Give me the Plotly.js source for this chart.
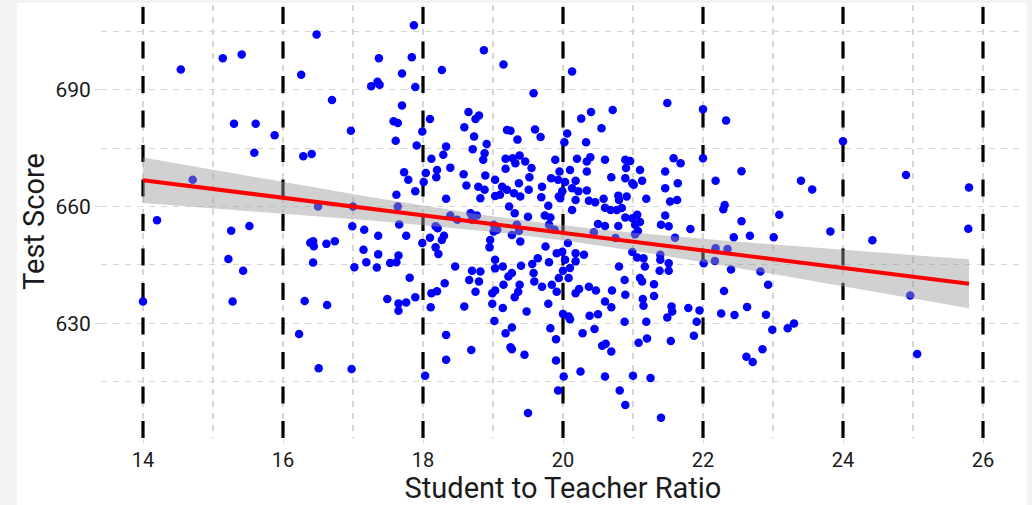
<!DOCTYPE html>
<html>
<head>
<meta charset="utf-8">
<script src="https://cdn.plot.ly/plotly-3.0.1.min.js"></script>
<style>
  html, body { margin: 0; padding: 0; background: #f3f3f3; width: 1032px; height: 505px; overflow: hidden; }
  #chart { position: absolute; left: 17px; top: 3px; width: 1010px; height: 502px; background: #ffffff; }
</style>
</head>
<body>
<div id="chart"></div>
<script>
// Student-teacher ratio (x) and test score (y) of each district
const strRatio = [
  14.54,15.14,15.41,15.30,15.61,15.88,15.59,14.71,16.48,16.26,16.70,16.29,16.41,16.50,17.00,16.97,17.37,17.26,17.38,17.35,17.58,17.64,17.61,17.62,17.64,
  14.20,15.26,15.52,15.22,15.43,14.00,15.28,16.99,17.16,17.36,16.39,16.43,16.44,16.62,16.74,16.43,17.15,17.36,17.02,17.19,17.34,17.53,17.62,17.65,17.66,16.31,16.63,17.49,17.65,17.65,16.23,16.51,16.98,
  17.87,18.87,19.15,17.84,17.70,18.27,17.89,19.58,17.70,18.10,17.99,18.65,18.80,18.75,18.59,18.73,18.91,18.33,18.71,17.91,19.20,19.25,19.35,19.60,19.68,
  18.12,18.29,18.86,18.88,19.18,19.28,19.38,19.46,19.32,19.55,19.18,19.89,17.73,18.04,18.20,18.19,18.39,17.79,18.01,18.58,18.89,18.62,18.79,18.88,18.82,
  19.03,19.13,19.20,19.10,19.03,19.30,19.39,19.37,19.52,19.51,19.70,19.69,19.83,19.79,19.94,17.89,18.33,19.23,19.31,19.50,19.74,19.82,18.39,18.49,18.68,
  18.77,18.70,19.01,19.06,19.01,19.34,19.37,19.27,19.80,19.88,18.18,18.21,18.30,18.27,17.76,17.99,18.10,18.96,18.95,19.39,19.75,18.18,18.22,19.91,19.03,
  19.03,19.14,19.40,19.64,19.56,19.80,18.46,18.70,18.82,18.66,18.80,18.75,17.81,18.31,18.20,18.12,19.27,19.22,19.15,19.03,18.99,19.38,19.36,19.58,19.59,
  19.70,19.84,19.91,
  17.76,17.89,18.11,18.59,18.99,19.14,19.31,19.48,19.79,19.02,19.27,19.18,18.33,18.69,19.25,19.27,19.45,19.82,19.90,18.33,19.90,18.03,19.93,19.50,
  20.13,21.49,22.00,20.26,20.40,20.71,20.55,20.06,20.02,20.33,
  20.20,20.34,20.39,20.60,20.89,20.96,20.90,21.10,21.46,21.58,21.68,22.00,20.10,20.34,19.95,19.93,20.69,20.89,20.99,21.01,21.13,21.46,21.64,20.03,20.18,
  20.13,20.22,20.34,19.99,19.96,20.18,20.37,20.46,20.58,20.79,20.91,20.80,21.19,21.53,21.63,20.13,20.60,20.68,20.77,20.84,20.89,20.99,21.06,21.10,21.03,
  21.07,20.50,20.60,20.79,21.46,21.40,21.51,21.82,20.44,20.75,21.03,21.60,20.07,19.99,20.03,20.18,20.30,20.18,20.10,20.00,20.99,21.06,21.15,21.17,21.39,
  21.39,21.51,21.51,21.38,20.80,22.01,19.94,20.08,20.88,21.10,21.13,21.30,20.37,20.47,20.23,20.18,20.70,20.89,
  20.60,20.69,21.14,21.15,21.30,20.00,20.08,20.10,20.38,20.50,20.88,21.19,21.49,21.56,21.55,21.79,21.95,21.91,20.28,20.45,20.56,20.61,20.69,21.08,21.20,
  21.54,21.87,20.25,20.01,20.60,21.00,21.25,20.81,20.89,21.40,
  22.33,24.00,22.55,22.18,23.40,23.56,24.90,25.80,22.31,22.29,23.09,22.55,
  22.44,22.67,23.01,23.82,24.42,25.79,22.18,22.17,22.35,22.40,22.82,22.93,22.30,22.26,22.45,22.63,22.90,22.99,23.21,23.30,22.85,22.62,22.71,24.96,25.06
];
const testScore = [
  695.2,698.1,699.1,681.3,681.3,678.3,673.8,666.9,704.2,693.9,687.4,672.9,673.5,660.0,660.0,679.5,698.1,690.9,691.3,692.1,681.9,681.5,676.9,663.0,660.0,
  656.5,653.8,655.0,646.5,643.5,635.6,635.6,654.9,654.0,652.5,650.7,651.1,649.8,650.4,651.1,645.6,648.9,647.7,644.4,645.7,644.3,645.5,645.7,647.4,655.4,635.7,634.7,636.2,635.1,633.2,627.2,618.4,618.2,
  706.6,700.2,696.5,698.4,694.2,695.1,690.7,689.1,686.0,682.5,679.3,684.3,683.4,682.5,680.4,678.0,676.1,675.4,674.7,675.7,679.7,679.5,677.2,679.8,677.9,
  672.3,673.3,672.0,673.7,672.3,672.4,673.1,671.6,671.1,669.9,669.7,672.0,668.8,668.6,669.4,667.5,670.0,666.9,666.3,668.3,668.0,665.4,665.1,664.3,662.1,
  666.9,665.1,664.3,663.0,662.7,663.4,662.6,666.0,667.5,664.3,665.1,662.4,667.3,660.2,662.6,663.9,662.0,660.0,658.3,657.4,657.7,657.2,657.7,656.6,658.3,
  657.7,656.6,655.3,654.0,653.6,655.3,653.7,652.7,655.3,654.0,654.9,654.4,652.5,651.4,652.5,650.6,652.0,651.4,649.5,651.0,649.7,649.5,647.8,648.0,646.3,
  644.1,644.6,644.8,646.7,645.2,645.7,644.6,643.5,643.3,641.1,640.7,638.1,641.7,640.3,638.2,637.7,642.9,642.0,639.9,638.4,637.7,639.9,638.1,642.9,640.7,
  639.4,639.9,638.1,
  635.3,636.7,634.1,634.3,635.0,633.9,636.7,633.0,635.0,630.6,628.9,627.4,627.0,623.1,623.8,623.3,621.9,628.7,625.9,620.6,620.4,616.5,612.7,606.9,
  694.7,686.6,685.0,682.6,684.3,684.8,680.1,678.8,676.5,676.5,
  672.3,671.6,672.7,672.0,672.0,671.7,669.9,669.4,669.0,672.4,671.1,672.4,669.4,669.0,669.0,666.9,667.5,667.3,666.0,665.6,666.6,664.7,666.0,666.3,666.6,
  664.7,663.9,664.1,663.9,662.1,661.7,661.5,661.1,662.0,662.8,662.6,661.7,662.0,661.3,661.7,659.1,659.7,659.1,659.1,659.6,657.2,657.0,657.9,656.0,655.3,
  653.7,655.5,655.0,655.0,657.7,655.3,654.9,654.2,653.4,651.9,652.9,652.0,650.6,648.4,646.3,648.0,647.6,645.9,644.2,643.5,648.3,646.9,646.7,644.6,647.6,
  646.3,645.4,643.5,643.5,644.6,645.4,641.6,641.6,641.1,641.6,640.7,640.0,639.4,638.4,638.8,637.7,638.4,637.3,
  635.6,634.1,636.2,634.5,637.0,632.4,631.7,631.0,631.9,632.3,630.4,630.4,631.5,633.0,634.3,633.9,633.3,630.4,627.4,628.5,624.2,624.7,622.7,625.0,626.1,
  625.4,626.8,617.6,616.3,616.3,616.5,615.9,612.7,609.0,605.7,
  682.1,676.8,669.1,666.6,666.6,664.4,668.1,664.9,660.4,659.3,657.9,656.2,
  652.1,652.5,652.1,653.6,651.3,654.3,649.3,646.0,649.1,643.8,643.3,639.9,638.3,632.5,632.1,634.2,632.2,628.3,628.7,629.9,623.3,621.4,620.0,637.1,622.1
];
// Reference lines at these ratios
const vlineX = [14, 16, 18, 20, 22, 24, 26];
const xTicks = [14, 16, 18, 20, 22, 24, 26];
const yTicks = [630, 660, 690];
const xRange = [13.4, 26.6];
const yRange = [600.49, 711.81];

// Linear fit (method = "lm") with 95% band, computed from the data
const n = strRatio.length;
const mx = strRatio.reduce((a, b) => a + b, 0) / n;
const my = testScore.reduce((a, b) => a + b, 0) / n;
let sxx = 0, sxy = 0;
for (let i = 0; i < n; i++) { sxx += (strRatio[i] - mx) ** 2; sxy += (strRatio[i] - mx) * (testScore[i] - my); }
const slope = sxy / sxx, intercept = my - slope * mx;
let sse = 0;
for (let i = 0; i < n; i++) { sse += (testScore[i] - intercept - slope * strRatio[i]) ** 2; }
const s = Math.sqrt(sse / (n - 2));
const tq = 1.966;
const xmin = Math.min(...strRatio), xmax = Math.max(...strRatio);
const fx = [], fy = [], lo = [], hi = [];
for (let k = 0; k <= 80; k++) {
  const x = xmin + (xmax - xmin) * k / 80;
  const yhat = intercept + slope * x;
  const se = s * Math.sqrt(1 / n + (x - mx) ** 2 / sxx);
  fx.push(x); fy.push(yhat); lo.push(yhat - tq * se); hi.push(yhat + tq * se);
}

const gridCol = '#d6d6d6';
const fontFam = 'Roboto, "Open Sans", sans-serif';

// dashed vertical reference lines (drawn first, from the bottom of the panel upwards)
const vlineTraces = vlineX.map(v => ({
  x: [v, v], y: [yRange[0], yRange[1]], type: 'scatter', mode: 'lines',
  line: { color: '#000000', width: 3.2, dash: '17px,17.5px' }, hoverinfo: 'skip', showlegend: false
}));

const traces = vlineTraces.concat([
  { x: strRatio, y: testScore, type: 'scatter', mode: 'markers',
    marker: { color: '#0000ff', size: 8.5, line: { width: 0 } }, hoverinfo: 'skip', showlegend: false },
  { x: fx, y: lo, type: 'scatter', mode: 'lines', line: { width: 0 }, hoverinfo: 'skip', showlegend: false },
  { x: fx, y: hi, type: 'scatter', mode: 'lines', line: { width: 0 }, fill: 'tonexty',
    fillcolor: 'rgba(153,153,153,0.45)', hoverinfo: 'skip', showlegend: false },
  { x: fx, y: fy, type: 'scatter', mode: 'lines', line: { color: '#ff0000', width: 4 }, hoverinfo: 'skip', showlegend: false }
]);

const layout = {
  width: 1010, height: 502,
  margin: { l: 84, r: 2, t: 2, b: 67 },
  paper_bgcolor: '#ffffff', plot_bgcolor: '#ffffff',
  font: { family: fontFam, color: '#1a1a1a' },
  showlegend: false,
  xaxis: {
    range: xRange, tickvals: xTicks, ticktext: xTicks.map(String),
    showgrid: true, gridcolor: gridCol, gridwidth: 1.2, griddash: '6px,6px',
    minor: { tick0: 13, dtick: 1, showgrid: true, gridcolor: gridCol, gridwidth: 1.2, griddash: '6px,6px' },
    zeroline: false, showline: false,
    ticks: 'outside', ticklen: 4, tickcolor: gridCol, tickwidth: 1,
    tickfont: { size: 20, color: '#1a1a1a' },
    title: { text: 'Student to Teacher Ratio', font: { size: 29, color: '#1a1a1a' }, standoff: 4 },
    automargin: false, fixedrange: true
  },
  yaxis: {
    range: yRange, tickvals: yTicks, ticktext: yTicks.map(String),
    showgrid: true, gridcolor: gridCol, gridwidth: 1.2, griddash: '6px,6px',
    minor: { tick0: 600, dtick: 15, showgrid: true, gridcolor: gridCol, gridwidth: 1.2, griddash: '6px,6px' },
    zeroline: false, showline: false,
    ticks: 'outside', ticklen: 5, tickcolor: gridCol, tickwidth: 1,
    tickfont: { size: 21, color: '#1a1a1a' },
    title: { text: 'Test Score', font: { size: 29, color: '#1a1a1a' }, standoff: 10 },
    automargin: false, fixedrange: true
  }
};

Plotly.newPlot('chart', traces, layout, { displayModeBar: false, staticPlot: true });
</script>
</body>
</html>
